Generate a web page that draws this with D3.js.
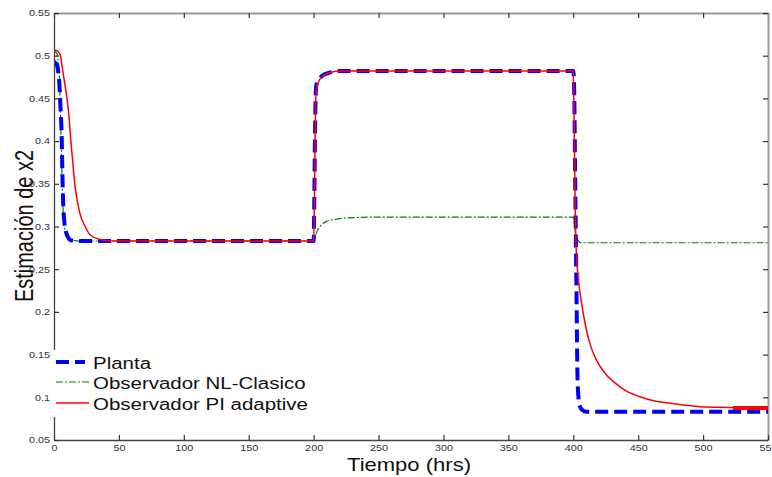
<!DOCTYPE html>
<head>
  <meta charset="utf-8">
  <title>Estimación de x2</title>
</head>
<style>
  body { margin: 0; background: #fff; }
  svg { display: block; font-family: "Liberation Sans", Arial, sans-serif; }
  .axis text { font-size: 9px; fill: #333340; }
  .axis .domain { stroke: #444; stroke-width: 1.3; }
  .axis line { stroke: #333; stroke-width: 1.2; }
  .frame .domain { stroke: #999; stroke-width: 2; }
</style>
<svg width="772" height="477"></svg>
<script src="https://d3js.org/d3.v7.min.js"></script>
<script>
  // data
  var xTicks = [0, 50, 100, 150, 200, 250, 300, 350, 400, 450, 500, 550];
  var yTicks = [0.05, 0.1, 0.15, 0.2, 0.25, 0.3, 0.35, 0.4, 0.45, 0.5, 0.55];

  var tPlanta = [0, 2, 4, 5, 6, 6.5, 7, 8, 10, 13, 20, 200, 200.5, 201, 201.5, 202, 204, 207, 212, 220,
    400, 400.7, 401.5, 402.5, 403.3, 404, 405, 407, 410, 550];
  var planta = [0.493, 0.49, 0.47, 0.44, 0.40, 0.36, 0.33, 0.305, 0.29, 0.284, 0.283, 0.283, 0.33, 0.40, 0.45, 0.465, 0.472, 0.477, 0.480, 0.482,
    0.482, 0.46, 0.35, 0.22, 0.12, 0.10, 0.09, 0.085, 0.083, 0.083];

  var tClasico = [0, 2, 4, 5, 6, 7, 8, 10, 14, 20, 200, 201, 202, 205, 210, 215, 225, 250,
    400, 401, 402, 404, 406, 550];
  var clasico = [0.505, 0.503, 0.48, 0.43, 0.37, 0.32, 0.30, 0.289, 0.284, 0.283, 0.283, 0.286, 0.292, 0.300, 0.306, 0.308, 0.310, 0.311,
    0.311, 0.30, 0.29, 0.283, 0.281, 0.281];

  var tAdaptive = [0, 3, 5, 6, 8, 10, 11.5, 13, 14.5, 16, 18, 20, 24, 28, 35, 45, 200, 200.5, 201, 201.5, 202, 204, 207, 212, 220,
    400, 400.5, 401, 401.5, 402, 403.7, 406, 409.7, 413, 417.4, 425, 432.9, 440, 450.8, 462, 475, 498, 520, 550];
  var adaptive = [0.507, 0.505, 0.50, 0.49, 0.47, 0.45, 0.43, 0.40, 0.375, 0.35, 0.33, 0.315, 0.30, 0.29, 0.285, 0.283, 0.283, 0.32, 0.39, 0.44, 0.46, 0.47, 0.476, 0.48, 0.482,
    0.482, 0.44, 0.38, 0.32, 0.284, 0.242, 0.214, 0.182, 0.162, 0.145, 0.127, 0.116, 0.108, 0.101, 0.096, 0.093, 0.089, 0.088, 0.087];

  // thick red piece at the end of the run
  var tTail = [523, 550];
  var tail = [0.0875, 0.0875];

  var legendNames = ["Planta", "Observador NL-Clasico", "Observador PI adaptive"];

  var svg = d3.select("svg"),
    mLeft = 54, mRight = 768, mTop = 13, mBottom = 440;

  var x = d3.scaleLinear().domain([0, 550]).range([mLeft, mRight]);
  var y = d3.scaleLinear().domain([0.05, 0.55]).range([mBottom, mTop]);

  var zip = function (ts, vs) { return ts.map(function (t, i) { return [t, vs[i]]; }); };

  var line = d3.line()
    .x(function (d) { return x(d[0]); })
    .y(function (d) { return y(d[1]); })
    .curve(d3.curveMonotoneX);

  svg.append("clipPath").attr("id", "clip")
    .append("rect").attr("x", mLeft).attr("y", mTop).attr("width", mRight - mLeft).attr("height", mBottom - mTop);

  // frame: top and right, ticks only
  svg.append("g").attr("class", "axis frame")
    .attr("transform", "translate(0," + mTop + ")")
    .call(d3.axisTop(x).tickValues(xTicks).tickSize(-5).tickSizeOuter(0).tickFormat(""));
  svg.append("g").attr("class", "axis frame")
    .attr("transform", "translate(" + mRight + ",0)")
    .call(d3.axisRight(y).tickValues(yTicks).tickSize(-5).tickSizeOuter(0).tickFormat(""));

  var plot = svg.append("g").attr("clip-path", "url(#clip)");

  plot.append("path")
    .datum(zip(tClasico, clasico))
    .attr("d", line)
    .attr("fill", "none")
    .attr("stroke", "#008000")
    .attr("stroke-width", 1.2)
    .attr("stroke-dasharray", "7,2,2,2");

  plot.append("path")
    .datum(zip(tPlanta, planta))
    .attr("d", line)
    .attr("fill", "none")
    .attr("stroke", "#0000ff")
    .attr("stroke-width", 4)
    .attr("stroke-dasharray", "13,6");

  plot.append("path")
    .datum(zip(tAdaptive, adaptive))
    .attr("d", line)
    .attr("fill", "none")
    .attr("stroke", "#ff0000")
    .attr("stroke-width", 1.5);

  plot.append("path")
    .datum(zip(tTail, tail))
    .attr("d", line)
    .attr("fill", "none")
    .attr("stroke", "#ff0000")
    .attr("stroke-width", 4);

  // bottom and left axes
  svg.append("g").attr("class", "axis")
    .attr("transform", "translate(0," + mBottom + ")")
    .call(d3.axisBottom(x).tickValues(xTicks).tickSize(-5).tickSizeOuter(0).tickPadding(5));
  svg.append("g").attr("class", "axis")
    .attr("transform", "translate(" + mLeft + ",0)")
    .call(d3.axisLeft(y).tickValues(yTicks).tickSize(-5).tickSizeOuter(0).tickPadding(4)
      .tickFormat(function (d) { return d3.format("")(+d.toFixed(2)); }));

  // the picture is a bit stretched sideways, so stretch the tick labels too
  svg.selectAll(".axis text").attr("transform", function () {
    var tx = +d3.select(this).attr("x") || 0;
    return "translate(" + tx + ",0) scale(1.2,1) translate(" + (-tx) + ",0)";
  });

  // legend
  var legend = svg.append("g");
  legend.append("rect")
    .attr("x", 52).attr("y", 350).attr("width", 268).attr("height", 67)
    .attr("fill", "#fff");

  var legendStyles = [
    { color: "#0000ff", width: 4, dash: "13,6", x2: 85 },
    { color: "#008000", width: 1.2, dash: "7,2,2,2", x2: 89 },
    { color: "#ff0000", width: 1.5, dash: null, x2: 89 }
  ];
  var legendRows = [362, 382, 403];

  legendNames.forEach(function (name, i) {
    var s = legendStyles[i];
    legend.append("line")
      .attr("x1", 56).attr("x2", s.x2)
      .attr("y1", legendRows[i]).attr("y2", legendRows[i])
      .attr("stroke", s.color)
      .attr("stroke-width", s.width)
      .attr("stroke-dasharray", s.dash);
    legend.append("text")
      .attr("transform", "translate(93," + (legendRows[i] + 6.5) + ") scale(1.28,1)")
      .attr("font-size", 16)
      .attr("fill", "#111")
      .text(name);
  });

  // axis titles
  svg.append("text")
    .attr("transform", "translate(409,470.5) scale(1.16,1)")
    .attr("text-anchor", "middle")
    .attr("font-size", 19)
    .attr("fill", "#111")
    .text("Tiempo (hrs)");

  svg.append("text")
    .attr("transform", "translate(33,226) scale(1.25,1) rotate(-90)")
    .attr("text-anchor", "middle")
    .attr("font-size", 20)
    .attr("fill", "#111")
    .text("Estimación de x2");
</script>
